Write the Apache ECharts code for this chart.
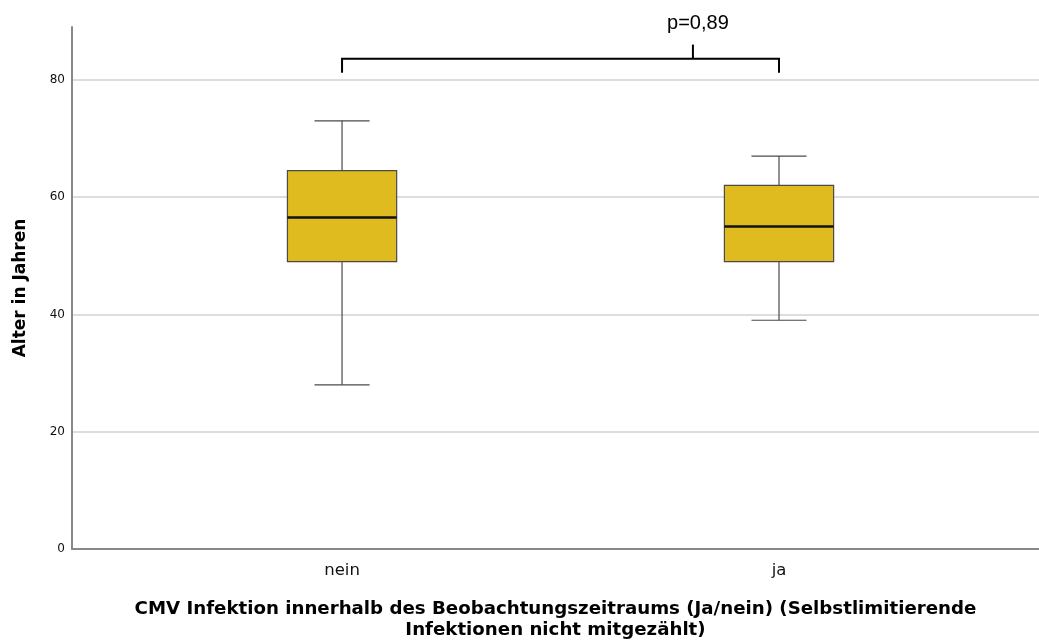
<!DOCTYPE html>
<html>
<head>
<meta charset="utf-8">
<script src="https://cdn.jsdelivr.net/npm/echarts@6/dist/echarts.min.js"></script>
<style>
  html, body { margin: 0; padding: 0; background: #fff; }
  #chart { width: 1039px; height: 644px; }
</style>
</head>
<body>
<div id="chart"></div>
<script>
// Groups and their box-plot statistics (age in years)
const categories = ['nein', 'ja'];
const whiskerLow  = [28, 39];
const quartile1   = [49, 49];
const medians     = [56.5, 55];
const quartile3   = [64.5, 62];
const whiskerHigh = [73, 67];

// Y axis ticks
const yTicks = [0, 20, 40, 60, 80];

// Significance bracket between the two groups
const pLabel = 'p=0,89';
const bracketLevel = 83.6;
const bracketFoot = 81.2;
const bracketPeak = 86;
const bracketTickAt = 1.803;

const boxData = categories.map((c, i) => [i + 1, whiskerLow[i], quartile1[i], medians[i], quartile3[i], whiskerHigh[i]]);

const chart = echarts.init(document.getElementById('chart'));

function renderBox(params, api) {
  const x = api.value(0);
  const pLo = api.coord([x, api.value(1)]);
  const pQ1 = api.coord([x, api.value(2)]);
  const pMed = api.coord([x, api.value(3)]);
  const pQ3 = api.coord([x, api.value(4)]);
  const pHi = api.coord([x, api.value(5)]);
  const bw = api.size([0.25, 0])[0];
  const cw = api.size([0.126, 0])[0];
  const cx = pMed[0];
  const wStyle = { stroke: '#4a4a4a', lineWidth: 1.2 };
  return {
    type: 'group',
    children: [
      { type: 'line', shape: { x1: cx, y1: pQ3[1], x2: cx, y2: pHi[1] }, style: wStyle },
      { type: 'line', shape: { x1: cx, y1: pQ1[1], x2: cx, y2: pLo[1] }, style: wStyle },
      { type: 'line', shape: { x1: cx - cw / 2, y1: pHi[1], x2: cx + cw / 2, y2: pHi[1] }, style: wStyle },
      { type: 'line', shape: { x1: cx - cw / 2, y1: pLo[1], x2: cx + cw / 2, y2: pLo[1] }, style: wStyle },
      { type: 'rect', shape: { x: cx - bw / 2, y: pQ3[1], width: bw, height: pQ1[1] - pQ3[1] },
        style: { fill: '#E0BB20', stroke: '#4a4a4a', lineWidth: 1.2 } },
      { type: 'line', shape: { x1: cx - bw / 2, y1: pMed[1], x2: cx + bw / 2, y2: pMed[1] },
        style: { stroke: '#111', lineWidth: 2.5 } }
    ]
  };
}

function renderBracket(params, api) {
  const a = api.coord([api.value(0), api.value(2)]);
  const b = api.coord([api.value(1), api.value(2)]);
  const footA = api.coord([api.value(0), api.value(3)]);
  const t = api.coord([api.value(4), api.value(5)]);
  const st = { stroke: '#000', lineWidth: 2, fill: null };
  return {
    type: 'group',
    children: [
      { type: 'polyline', shape: { points: [[a[0], footA[1]], a, b, [b[0], footA[1]]] }, style: st },
      { type: 'line', shape: { x1: t[0], y1: a[1], x2: t[0], y2: t[1] }, style: st },
      { type: 'text', style: { text: pLabel, x: t[0] + 5, y: t[1] - 11, align: 'center', verticalAlign: 'bottom',
          font: '20px "Liberation Sans", Arial, sans-serif', fill: '#000' } }
    ]
  };
}

chart.setOption({
  animation: false,
  backgroundColor: '#fff',
  grid: { left: 72, right: 0, top: 27, bottom: 95, outerBoundsMode: 'none', containLabel: false },
  xAxis: {
    type: 'value',
    min: 0.382,
    max: 2.595,
    name: 'CMV Infektion innerhalb des Beobachtungszeitraums (Ja/nein) (Selbstlimitierende\nInfektionen nicht mitgezählt)',
    nameLocation: 'middle',
    nameGap: 50,
    nameTextStyle: { fontFamily: '"DejaVu Sans", sans-serif', fontWeight: 'bold', fontSize: 18.2, color: '#000', lineHeight: 21 },
    axisLine: { show: true, lineStyle: { color: '#888', width: 2 } },
    axisTick: { show: false },
    splitLine: { show: false },
    axisLabel: {
      customValues: [1, 2],
      formatter: v => categories[Math.round(v) - 1] || '',
      fontFamily: '"DejaVu Sans", sans-serif', fontSize: 16.5, color: '#111', margin: 13
    }
  },
  yAxis: {
    type: 'value',
    min: 0,
    max: 89,
    name: 'Alter in Jahren',
    nameLocation: 'middle',
    nameGap: 43,
    nameTextStyle: { fontFamily: '"DejaVu Sans", sans-serif', fontWeight: 'bold', fontSize: 17, color: '#000' },
    axisLine: { show: true, lineStyle: { color: '#888', width: 2 } },
    axisTick: { show: false, customValues: yTicks },
    axisLabel: {
      customValues: yTicks,
      fontFamily: '"DejaVu Sans", sans-serif', fontSize: 12, color: '#111', margin: 7
    },
    splitLine: { show: true, lineStyle: { color: '#d2d2d2', width: 1.5 } }
  },
  series: [
    {
      type: 'custom',
      renderItem: renderBox,
      encode: { x: 0, y: [1, 2, 3, 4, 5] },
      data: boxData,
      clip: false,
      z: 3
    },
    {
      type: 'custom',
      renderItem: renderBracket,
      encode: { x: [0, 1, 4], y: [2, 3, 5] },
      data: [[1, 2, bracketLevel, bracketFoot, bracketTickAt, bracketPeak]],
      clip: false,
      z: 4
    }
  ]
});
</script>
</body>
</html>
